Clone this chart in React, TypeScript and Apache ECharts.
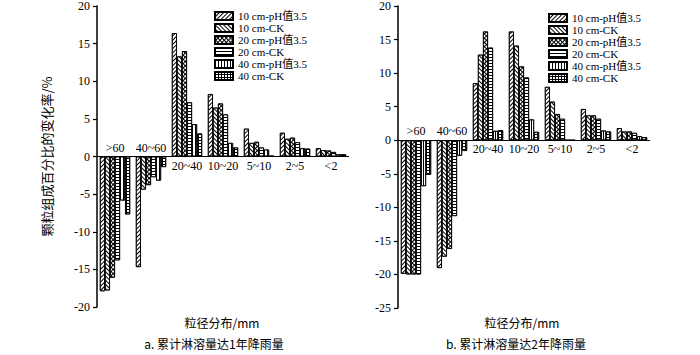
import React, { useEffect, useRef } from "react";
import * as echarts from "echarts";

const categories = [">60", "40~60", "20~40", "10~20", "5~10", "2~5", "<2"];
const seriesNames = ["10 cm-pH值3.5", "10 cm-CK", "20 cm-pH值3.5", "20 cm-CK", "40 cm-pH值3.5", "40 cm-CK"];

// Panel a: 1-year rainfall
const a10pH = [-17.9, -14.7, 16.4, 8.3, 3.7, 3.15, 1.1];
const a10CK = [-17.8, -4.4, 13.3, 6.5, 1.8, 2.35, 0.85];
const a20pH = [-16.1, -3.8, 14.0, 7.05, 1.95, 2.5, 0.8];
const a20CK = [-13.8, -2.75, 7.2, 5.6, 1.2, 1.9, 0.6];
const a40pH = [-5.85, -3.2, 4.3, 1.8, 0.93, 1.1, 0.3];
const a40CK = [-7.7, -1.4, 3.06, 1.2, 0.1, 1.05, 0.3];

// Panel b: 2-year rainfall
const b10pH = [-19.9, -19.05, 8.5, 16.2, 7.95, 4.65, 1.8];
const b10CK = [-20.0, -17.35, 12.75, 14.1, 5.75, 3.7, 1.3];
const b20pH = [-20.0, -16.2, 16.2, 11.0, 3.9, 3.7, 1.3];
const b20CK = [-20.0, -11.3, 13.8, 9.35, 3.2, 3.2, 1.1];
const b40pH = [-6.85, -2.3, 1.4, 3.1, 0, 1.45, 0.6];
const b40CK = [-5.15, -1.6, 1.5, 1.25, 0, 1.3, 0.45];

const yTitle = "颗粒组成百分比的变化率/%";
const xTitle = "粒径分布/mm";
const captionA = "a. 累计淋溶量达1年降雨量";
const captionB = "b. 累计淋溶量达2年降雨量";

const SERIF = "'Liberation Serif', 'Times New Roman', 'Noto Sans CJK SC', serif";
const CJK = "'Noto Sans CJK SC', sans-serif";

const gridRows = [[1, 0], [1, 2], [1, 2]];
const decals: any[] = [
  { symbol: "rect", symbolSize: 1, dashArrayX: [1, 0], dashArrayY: [1, 2], rotation: -Math.PI / 4, color: "#000", backgroundColor: "#fff" },
  { symbol: "rect", symbolSize: 1, dashArrayX: [1, 0], dashArrayY: [1, 2], rotation: Math.PI / 4, color: "#000", backgroundColor: "#fff" },
  { symbol: "rect", symbolSize: 1, dashArrayX: gridRows, dashArrayY: [1, 0], rotation: Math.PI / 4, color: "#000", backgroundColor: "#fff" },
  { symbol: "rect", symbolSize: 1, dashArrayX: [1, 0], dashArrayY: [1, 2], rotation: 0, color: "#000", backgroundColor: "#fff" },
  { symbol: "rect", symbolSize: 1, dashArrayX: [1, 2], dashArrayY: [1, 0], rotation: 0, color: "#000", backgroundColor: "#fff" },
  { symbol: "rect", symbolSize: 1, dashArrayX: gridRows, dashArrayY: [1, 0], rotation: 0, color: "#000", backgroundColor: "#fff" },
];

export default function App() {
  const ref = useRef<HTMLDivElement>(null);
  useEffect(() => {
    if (!ref.current) return;
    const chart = echarts.init(ref.current, undefined, { renderer: "svg" });
    const panelA = [a10pH, a10CK, a20pH, a20CK, a40pH, a40CK];
    const panelB = [b10pH, b10CK, b20pH, b20CK, b40pH, b40CK];

    const makeX = (grid: number) => ({
      type: "category",
      gridIndex: grid,
      data: categories,
      axisLine: { show: false },
      axisTick: { show: false },
      axisLabel: { show: false },
      splitLine: { show: false },
    });

    const makeY = (grid: number, min: number, withName: boolean) => ({
      type: "value",
      gridIndex: grid,
      min,
      max: 20,
      interval: 5,
      name: withName ? yTitle : "",
      nameLocation: "middle",
      nameGap: 44,
      nameRotate: 90,
      nameTextStyle: { color: "#000", fontSize: 13, fontFamily: CJK },
      axisLine: { show: true, lineStyle: { color: "#000", width: 1.5 } },
      axisTick: { show: true, inside: false, length: 4, lineStyle: { color: "#000", width: 1.2 } },
      axisLabel: { color: "#000", fontSize: 12, fontFamily: SERIF, margin: 7 },
      splitLine: { show: false },
    });

    const makeSeries = (data: number[][], idx: number) =>
      data.map((d, k) => ({
        type: "bar",
        name: seriesNames[k],
        xAxisIndex: idx,
        yAxisIndex: idx,
        data: d,
        barGap: "0%",
        barCategoryGap: "16%",
        itemStyle: { color: "#fff", borderColor: "#000", borderWidth: 0.8, decal: decals[k] },
        emphasis: { disabled: true },
        markLine:
          k === 0
            ? {
                silent: true,
                symbol: "none",
                label: { show: false },
                lineStyle: { color: "#000", width: 1.2, type: "solid" },
                data: [{ yAxis: 0 }],
              }
            : undefined,
      }));

    // category labels placed at the zero line: above for negative groups, below otherwise
    const makeLabels = (lead: number[], idx: number) => ({
      type: "custom",
      name: "cat-labels",
      xAxisIndex: idx,
      yAxisIndex: idx,
      silent: true,
      z: 5,
      data: categories.map((c, i) => [i, 0, lead[i] < 0 ? 1 : 0]),
      renderItem: (params: any, api: any) => {
        const i = api.value(0);
        const up = api.value(2) === 1;
        const p = api.coord([i, 0]);
        return {
          type: "text",
          x: p[0],
          y: up ? p[1] - 3 : p[1] + 3,
          style: {
            text: categories[i],
            fill: "#000",
            fontSize: 12,
            fontFamily: SERIF,
            align: "center",
            verticalAlign: up ? "bottom" : "top",
          },
        };
      },
    });

    const legendBase = {
      orient: "vertical",
      itemWidth: 18,
      itemHeight: 8,
      itemGap: 0,
      icon: "rect",
      data: seriesNames,
      textStyle: { color: "#000", fontSize: 11, fontFamily: SERIF, lineHeight: 12 },
      selectedMode: false,
    };

    const txt = (text: string, x: number, y: number, size: number) => ({
      type: "text",
      x,
      y,
      style: { text, fill: "#000", fontSize: size, fontFamily: CJK, align: "center", verticalAlign: "middle" },
    });

    chart.setOption({
      animation: false,
      backgroundColor: "#fff",
      grid: [
        { left: 97, top: 6, width: 252, height: 301, containLabel: false },
        { left: 398, top: 6, width: 252, height: 302, containLabel: false },
      ],
      xAxis: [makeX(0), makeX(1)],
      yAxis: [makeY(0, -20, true), makeY(1, -25, false)],
      legend: [
        { ...legendBase, left: 209, top: 5 },
        { ...legendBase, left: 543, top: 7 },
      ],
      series: [
        ...makeSeries(panelA, 0),
        ...makeSeries(panelB, 1),
        makeLabels(a10pH, 0),
        makeLabels(b10pH, 1),
      ],
      graphic: [
        txt(xTitle, 222, 322, 12),
        txt(captionA, 214, 343, 12),
        txt(xTitle, 522, 322, 12),
        txt(captionB, 516, 343, 12),
      ],
    });
    return () => chart.dispose();
  }, []);
  return <div ref={ref} style={{ position: "fixed", left: 0, top: 0, width: 700, height: 355 }} />;
}
